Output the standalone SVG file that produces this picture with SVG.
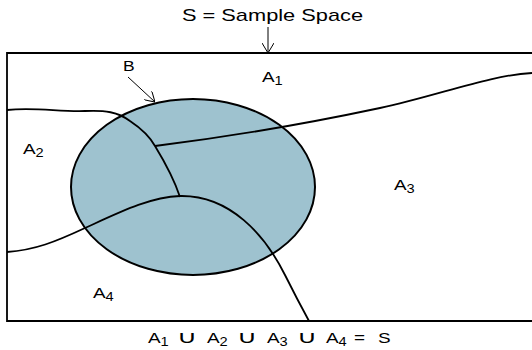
<svg xmlns="http://www.w3.org/2000/svg" width="532" height="350" viewBox="0 0 532 350">
<defs>
<style>
text{font-family:"Liberation Sans",Arial,"DejaVu Sans",sans-serif;fill:#000}
.lbl{font-size:15.5px}
.sub{font-size:12px}
.cup{font-size:18px;font-family:"DejaVu Sans",sans-serif}
.bd{fill:none;stroke:#000;stroke-width:1.8}
.ar{fill:none;stroke:#000;stroke-width:1}
</style>
<marker id="v" viewBox="0 0 10 12" refX="10" refY="6" markerWidth="10" markerHeight="12" markerUnits="userSpaceOnUse" orient="auto">
<path d="M0,0 L10,6 L0,12" fill="none" stroke="#000" stroke-width="1"/>
</marker>
</defs>
<rect width="532" height="350" fill="#fff"/>
<g id="space">
<path class="bd" d="M540,53 H7 V321 H540"/>
</g>
<g id="B">
<ellipse cx="193" cy="187" rx="122" ry="88" fill="#9ec2cf" stroke="#000" stroke-width="2"/>
</g>
<g id="connectors">
<path class="bd" d="M7,110 C35,107 60,112 85,111 C105,110 118,112 130,121 C142,129 150,137 155,146 C166,164 175,182 180,197"/>
<path class="bd" d="M155,146 C220,138 300,125 380,108 C440,95 490,75 532,73"/>
<path class="bd" d="M7,252 C35,250 55,242 85,228 C120,212 150,197 180,196 C230,195 265,235 285,275 C295,295 303,310 309,321"/>
<line class="ar" x1="268" y1="27" x2="268" y2="53" marker-end="url(#v)"/>
<line class="ar" x1="128" y1="77" x2="155" y2="102" marker-end="url(#v)"/>
</g>
<g id="labels">
<text x="182" y="21" font-size="17" textLength="181" lengthAdjust="spacingAndGlyphs">S = Sample Space</text>
<text transform="translate(123,71) scale(1.25,1)" font-size="14">B</text>
<text class="lbl" transform="translate(262,82) scale(1.22,1)">A<tspan class="sub" dy="3">1</tspan></text>
<text class="lbl" transform="translate(23,154) scale(1.22,1)">A<tspan class="sub" dy="3">2</tspan></text>
<text class="lbl" transform="translate(394,190) scale(1.22,1)">A<tspan class="sub" dy="3">3</tspan></text>
<text class="lbl" transform="translate(93,298) scale(1.22,1)">A<tspan class="sub" dy="3">4</tspan></text>
</g>
<g id="equation">
<text class="lbl" transform="translate(148,343) scale(1.22,1)">A<tspan class="sub" dy="3">1</tspan></text>
<text class="cup" transform="translate(177,343) scale(1.55,0.95)">∪</text>
<text class="lbl" transform="translate(207,343) scale(1.22,1)">A<tspan class="sub" dy="3">2</tspan></text>
<text class="cup" transform="translate(237,343) scale(1.55,0.95)">∪</text>
<text class="lbl" transform="translate(267,343) scale(1.22,1)">A<tspan class="sub" dy="3">3</tspan></text>
<text class="cup" transform="translate(297,343) scale(1.55,0.95)">∪</text>
<text class="lbl" transform="translate(326,343) scale(1.22,1)">A<tspan class="sub" dy="3">4</tspan></text>
<text class="lbl" transform="translate(354,343) scale(1.22,1)">=</text>
<text class="lbl" transform="translate(378,343) scale(1.22,1)">S</text>
</g>
</svg>
